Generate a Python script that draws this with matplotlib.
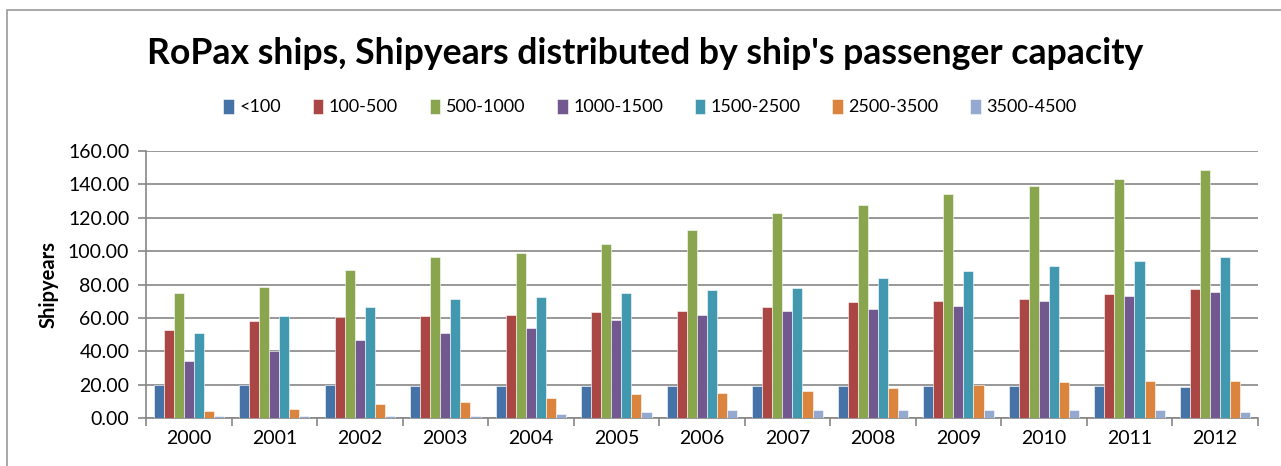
import numpy as np
import matplotlib
matplotlib.use("Agg")
import matplotlib.pyplot as plt
from matplotlib.patches import Rectangle
from matplotlib.ticker import FixedLocator, FormatStrFormatter

years = ['2000', '2001', '2002', '2003', '2004', '2005', '2006',
         '2007', '2008', '2009', '2010', '2011', '2012']
classes = ['<100', '100-500', '500-1000', '1000-1500', '1500-2500', '2500-3500', '3500-4500']

under_100 = [19.7, 19.7, 19.7, 19.1, 19.1, 19.1, 19.1, 19.1, 19.1, 19.1, 19.1, 19.1, 18.3]
cap_100_500 = [52.6, 58.0, 60.4, 61.2, 61.8, 63.3, 64.1, 66.5, 69.5, 70.3, 71.1, 74.1, 77.1]
cap_500_1000 = [74.9, 78.5, 88.6, 96.2, 98.6, 104.0, 112.5, 123.1, 127.5, 134.5, 139.0, 143.0, 148.4]
cap_1000_1500 = [34.3, 40.4, 46.6, 51.2, 54.2, 58.8, 61.8, 64.1, 65.5, 67.1, 70.3, 73.3, 75.5]
cap_1500_2500 = [51.2, 61.2, 66.5, 71.1, 72.5, 74.9, 76.5, 77.9, 84.1, 87.8, 90.8, 94.0, 96.2]
cap_2500_3500 = [4.4, 5.4, 8.6, 9.8, 12.2, 14.5, 15.1, 15.9, 18.1, 19.7, 21.3, 22.1, 22.1]
cap_3500_4500 = [1.4, 1.4, 1.4, 1.4, 2.2, 3.8, 4.6, 4.6, 4.6, 4.6, 4.6, 4.6, 3.8]

series = [under_100, cap_100_500, cap_500_1000, cap_1000_1500,
          cap_1500_2500, cap_2500_3500, cap_3500_4500]
colors = ['#4572A7', '#AA4643', '#89A54E', '#71588F', '#4198AF', '#DB843D', '#93A9CF']

plt.rcParams['font.family'] = ['Lato', 'DejaVu Sans']

W, H = 1281, 466
fig = plt.figure(figsize=(W / 100, H / 100), dpi=100)
fig.patch.set_facecolor('white')

# chart area frame (open at right and bottom)
fig.patches.append(Rectangle((7 / W, -0.5), 1.2, 1.5 - 10 / H, transform=fig.transFigure,
                             fill=False, edgecolor='#9a9a9a', linewidth=1.2))

ax = fig.add_axes([146 / W, 1 - 418 / H, (1257.7 - 146) / W, (418 - 151) / H])

x = np.arange(len(years))
bw = 1 / (len(series) + 1.5)
for i, (vals, col, lab) in enumerate(zip(series, colors, classes)):
    offs = (i - (len(series) - 1) / 2) * bw
    ax.bar(x + offs, vals, width=bw, color=col, label=lab,
           edgecolor='white', linewidth=0.4, zorder=3)

ax.set_xlim(-0.5, len(years) - 0.5)
ax.set_ylim(0, 160)
ax.yaxis.set_major_locator(FixedLocator(np.arange(0, 161, 20)))
ax.yaxis.set_major_formatter(FormatStrFormatter('%.2f'))
ax.grid(axis='y', color='#868686', linewidth=1.2, zorder=0)

ax.set_xticks(x)
ax.set_xticklabels(years)
ax.xaxis.set_minor_locator(FixedLocator(np.arange(-0.5, len(years), 1)))
ax.tick_params(axis='x', which='major', length=0, pad=9, labelsize=14)
ax.tick_params(axis='x', which='minor', length=6, color='#868686', width=1.2)
ax.tick_params(axis='y', length=6, color='#868686', width=1.2, labelsize=14, pad=6)

for s in ['top', 'right']:
    ax.spines[s].set_visible(False)
for s in ['left', 'bottom']:
    ax.spines[s].set_color('#868686')
    ax.spines[s].set_linewidth(1.2)

ax.set_ylabel('Shipyears', fontsize=14.5, fontweight='bold', labelpad=7)

fig.text(645 / W, 1 - 53 / H, "RoPax ships, Shipyears distributed by ship's passenger capacity",
         ha='center', va='center', fontsize=25.7, fontweight='bold')

fig.legend(loc='center', bbox_to_anchor=(650 / W, 1 - 107 / H), ncol=7, frameon=False,
           fontsize=13, handlelength=0.6, handleheight=0.9, handletextpad=0.3,
           columnspacing=1.75)

fig.savefig('out.png', dpi=100)
